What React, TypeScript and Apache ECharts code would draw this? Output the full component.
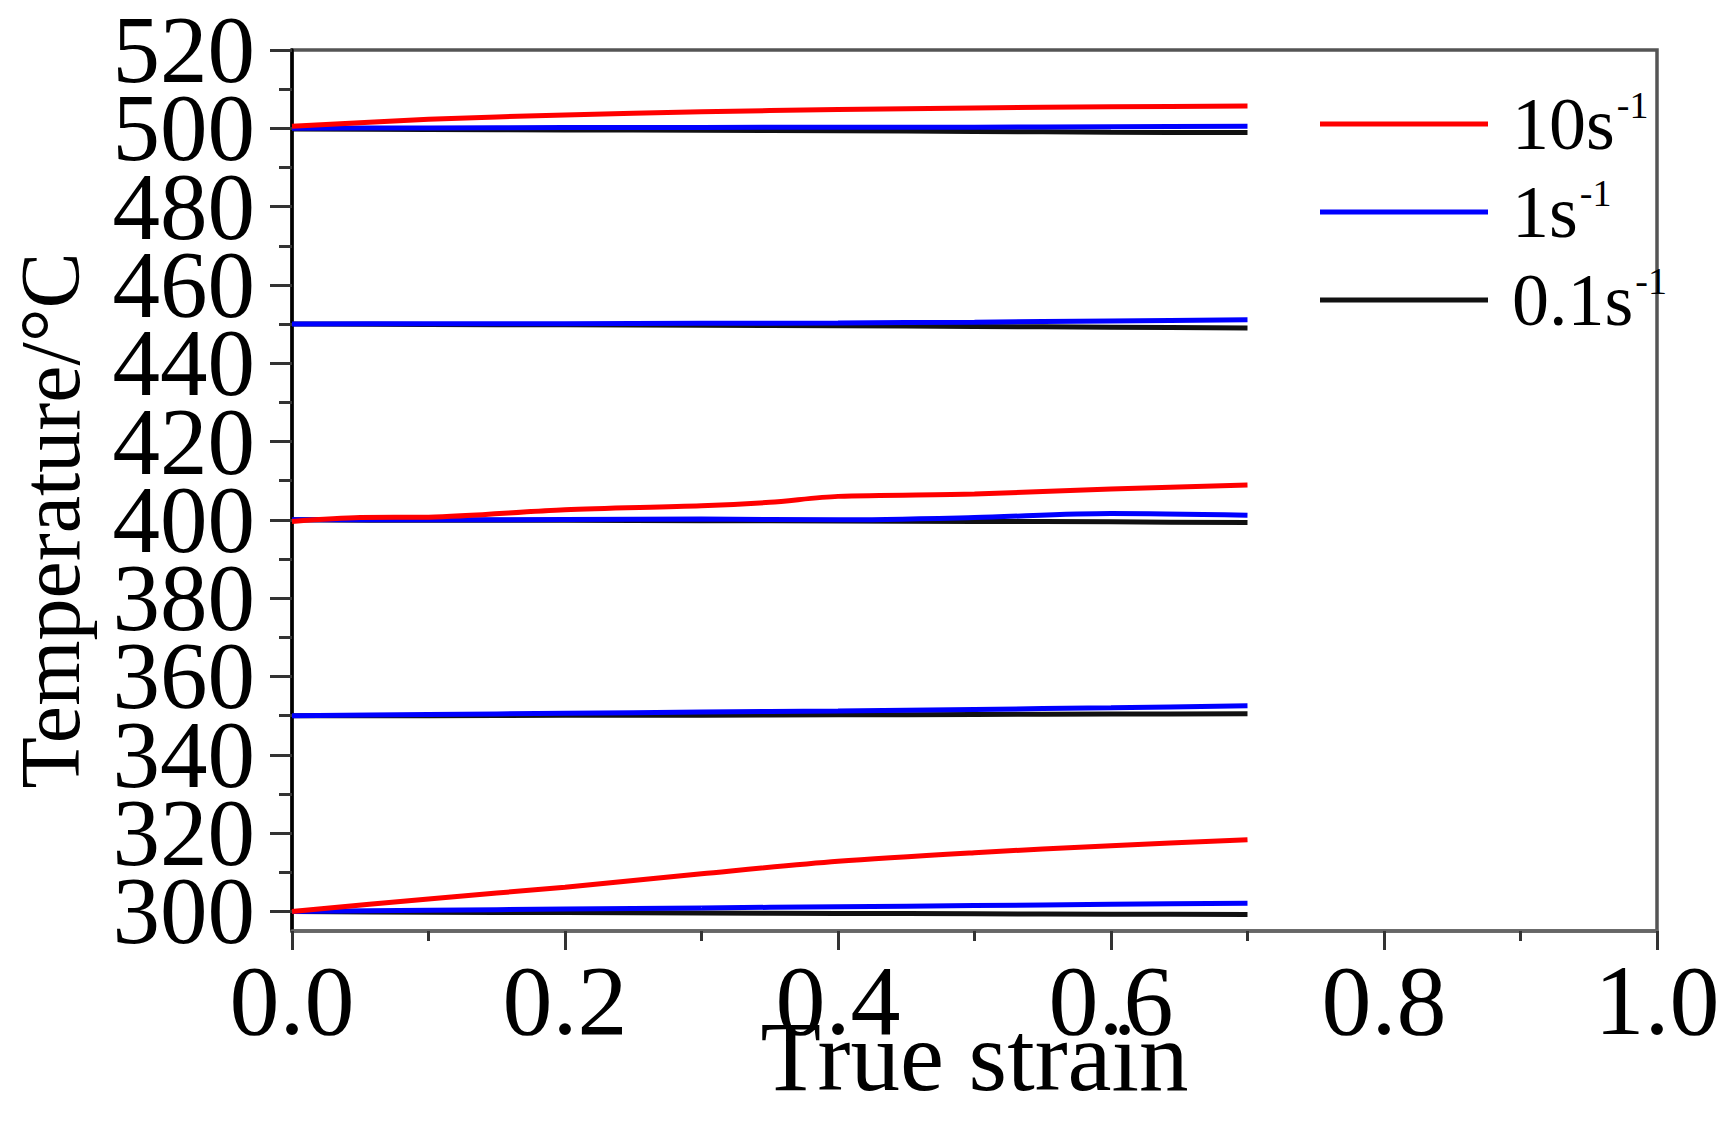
import React, { useEffect, useRef } from "react";
import * as echarts from "echarts";

// ---- data ----
const strain = [0, 0.1, 0.2, 0.3, 0.4, 0.5, 0.6, 0.7];
const strainRed400 = [0, 0.05, 0.1, 0.2, 0.3, 0.35, 0.4, 0.5, 0.6, 0.7];

const red500 = [500.5, 502.3, 503.4, 504.2, 504.8, 505.2, 505.5, 505.7];
const blue500 = [500.0, 500.1, 500.2, 500.2, 500.3, 500.3, 500.4, 500.5];
const black500 = [499.8, 499.7, 499.6, 499.5, 499.4, 499.2, 499.0, 498.9];

const blue450 = [450.0, 450.1, 450.1, 450.2, 450.3, 450.5, 450.8, 451.1];
const black450 = [450.0, 449.9, 449.8, 449.7, 449.6, 449.4, 449.2, 449.0];

const red400 = [399.6, 400.6, 400.7, 402.6, 403.6, 404.5, 406.0, 406.6, 407.9, 408.9];
const blue400 = [400.0, 400.0, 400.1, 400.2, 400.0, 400.6, 401.6, 401.2];
const black400 = [400.0, 399.9, 399.9, 399.8, 399.7, 399.6, 399.5, 399.3];

const blue350 = [350.0, 350.3, 350.6, 350.9, 351.2, 351.6, 352.0, 352.5];
const black350 = [350.0, 350.0, 350.1, 350.1, 350.2, 350.3, 350.4, 350.5];

const red300 = [300.0, 303.2, 306.2, 309.6, 312.8, 315.0, 316.8, 318.3];
const blue300 = [300.0, 300.3, 300.6, 300.9, 301.2, 301.5, 301.8, 302.1];
const black300 = [300.0, 299.8, 299.7, 299.6, 299.5, 299.4, 299.3, 299.2];

const rateNames = ["10s-1", "1s-1", "0.1s-1"];
const rateBase = ["10s", "1s", "0.1s"];
const rateColors = ["#ff0000", "#0000ff", "#111111"];

const xTicks = [0, 0.2, 0.4, 0.6, 0.8, 1.0];
const yMajor = [300, 320, 340, 360, 380, 400, 420, 440, 460, 480, 500, 520];
const yMinor = [310, 330, 350, 370, 390, 410, 430, 450, 470, 490, 510];

const FONT = '"Liberation Serif", "Times New Roman", serif';

function pairs(xs: number[], ys: number[]) {
  return ys.map((y, i) => [xs[i], y]);
}

export default function App() {
  const ref = useRef<HTMLDivElement>(null);

  useEffect(() => {
    if (!ref.current) return;
    const chart = echarts.init(ref.current, undefined, { renderer: "svg" });

    const groups: { rate: number; x: number[]; y: number[] }[] = [
      { rate: 2, x: strain, y: black300 },
      { rate: 1, x: strain, y: blue300 },
      { rate: 0, x: strain, y: red300 },
      { rate: 2, x: strain, y: black350 },
      { rate: 1, x: strain, y: blue350 },
      { rate: 2, x: strain, y: black400 },
      { rate: 1, x: strain, y: blue400 },
      { rate: 0, x: strainRed400, y: red400 },
      { rate: 2, x: strain, y: black450 },
      { rate: 1, x: strain, y: blue450 },
      { rate: 2, x: strain, y: black500 },
      { rate: 1, x: strain, y: blue500 },
      { rate: 0, x: strain, y: red500 },
    ];

    const series = groups.map((g) => ({
      type: "line",
      name: rateNames[g.rate],
      data: pairs(g.x, g.y),
      showSymbol: false,
      symbol: "none",
      smooth: 0.3,
      clip: false,
      lineStyle: { color: rateColors[g.rate], width: 5 },
      itemStyle: { color: rateColors[g.rate] },
      xAxisIndex: 0,
      yAxisIndex: 0,
    }));

    // labels split over two coincident axes so that ECharts never drops
    // any of the (large, tightly packed) tick labels
    const yLabelsA = yMajor.filter((_, i) => i % 2 === 0);
    const yLabelsB = yMajor.filter((_, i) => i % 2 === 1);

    const yLabelStyle = {
      margin: 37,
      fontFamily: FONT,
      fontSize: 95,
      lineHeight: 66,
      color: "#000",
      showMinLabel: true,
      showMaxLabel: true,
      hideOverlap: false,
    };

    chart.setOption({
      animation: false,
      backgroundColor: "#ffffff",
      grid: {
        left: 292,
        top: 50,
        right: 71,
        bottom: 197,
        containLabel: false,
        outerBoundsMode: "none",
        show: true,
        borderColor: "#555555",
        borderWidth: 3.5,
        backgroundColor: "transparent",
      },
      legend: {
        orient: "vertical",
        left: 1315,
        top: 79,
        itemWidth: 168,
        itemHeight: 5,
        itemGap: 8,
        icon: "rect",
        data: rateNames,
        formatter: (name: string) => {
          const i = rateNames.indexOf(name);
          return `{b|${rateBase[i]}}{s|-1}`;
        },
        textStyle: {
          fontFamily: FONT,
          fontSize: 74,
          color: "#000",
          lineHeight: 80,
          padding: [0, 0, 0, 19],
          rich: {
            b: { fontFamily: FONT, fontSize: 74, color: "#000", lineHeight: 80 },
            s: { fontFamily: FONT, fontSize: 38, color: "#000", verticalAlign: "top", padding: [2, 0, 0, 2] },
          },
        },
      },
      xAxis: {
        type: "value",
        min: 0,
        max: 1,
        interval: 0.2,
        name: "True strain",
        nameLocation: "middle",
        nameGap: 85,
        nameMoveOverlap: false,
        nameTextStyle: { fontFamily: FONT, fontSize: 99, lineHeight: 80, color: "#000", verticalAlign: "top" },
        axisLine: { show: true, lineStyle: { color: "#666666", width: 3.5 } },
        axisTick: { show: true, inside: false, length: 19, customValues: xTicks, lineStyle: { color: "#333", width: 3 } },
        minorTick: { show: true, splitNumber: 2, length: 10, lineStyle: { color: "#333", width: 3 } },
        splitLine: { show: false },
        minorSplitLine: { show: false },
        axisLabel: {
          margin: 19,
          fontFamily: FONT,
          fontSize: 100,
          color: "#000",
          formatter: (v: number) => v.toFixed(1),
        },
      },
      yAxis: [
        {
          type: "value",
          min: 295,
          max: 520,
          position: "left",
          name: "Temperature/\u00B0C",
          nameLocation: "middle",
          nameGap: 200,
          nameTextStyle: { fontFamily: FONT, fontSize: 84, color: "#000", padding: [0, 60, 0, 0] },
          axisLine: { show: true, onZero: false, lineStyle: { color: "#000", width: 3.5 } },
          axisTick: { show: true, inside: false, length: 22, customValues: yMajor, lineStyle: { color: "#333", width: 3 } },
          axisLabel: { ...yLabelStyle, customValues: yLabelsA },
          splitLine: { show: false },
        },
        {
          type: "value",
          min: 295,
          max: 520,
          position: "left",
          axisLine: { show: false },
          axisLabel: { show: false },
          splitLine: { show: false },
          axisTick: { show: true, inside: false, length: 13, customValues: yMinor, lineStyle: { color: "#333", width: 3 } },
        },
        {
          type: "value",
          min: 295,
          max: 520,
          position: "left",
          axisLine: { show: false },
          axisTick: { show: false },
          splitLine: { show: false },
          axisLabel: { ...yLabelStyle, customValues: yLabelsB },
        },
      ],
      series,
    });

    return () => chart.dispose();
  }, []);

  return (
    <div
      ref={ref}
      style={{ position: "absolute", left: 0, top: 0, width: 1728, height: 1128, background: "#fff" }}
    />
  );
}
